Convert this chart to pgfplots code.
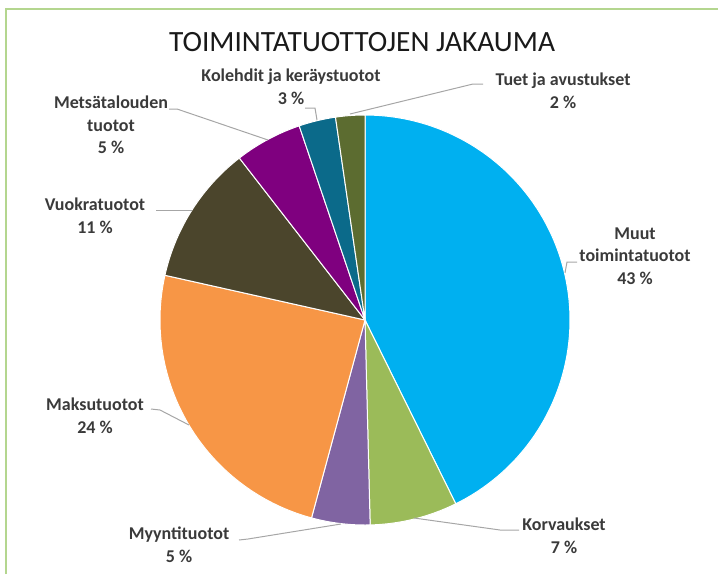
\documentclass[border=0pt]{standalone}
\usepackage{pgfplots}
\pgfplotsset{compat=1.18}
\usepackage{fontspec}
\setmainfont{Carlito}
\definecolor{cMuut}{HTML}{00B0F0}
\definecolor{cKorv}{HTML}{9BBB59}
\definecolor{cMyyn}{HTML}{8064A2}
\definecolor{cMaks}{HTML}{F79646}
\definecolor{cVuok}{HTML}{4B452C}
\definecolor{cMets}{HTML}{7F007F}
\definecolor{cKole}{HTML}{0B6A8A}
\definecolor{cTuet}{HTML}{5C6C30}
\definecolor{cFrame}{HTML}{B4D68F}
\definecolor{cTxt}{HTML}{3A3A3A}
\definecolor{cLead}{HTML}{A6A6A6}
% slice values (percent), clockwise from 12 o'clock
\def\vMuut{42.7}\def\vKorv{6.9}\def\vMyyn{4.6}\def\vMaks{24.3}
\def\vVuok{11.0}\def\vMets{5.3}\def\vKole{2.9}\def\vTuet{2.3}
\pgfmathsetmacro\cA{0}
\pgfmathsetmacro\cB{\cA+\vMuut}
\pgfmathsetmacro\cC{\cB+\vKorv}
\pgfmathsetmacro\cD{\cC+\vMyyn}
\pgfmathsetmacro\cE{\cD+\vMaks}
\pgfmathsetmacro\cF{\cE+\vVuok}
\pgfmathsetmacro\cG{\cF+\vMets}
\pgfmathsetmacro\cH{\cG+\vKole}
\pgfmathsetmacro\cI{\cH+\vTuet}
\newcommand\slice[3]{%
  \addplot[fill=#3, draw=white, line width=0.5pt, domain={90-3.6*#2}:{90-3.6*#1}, samples=90, variable=\t]
    ({365+205*cos(\t)},{320-205*sin(\t)}) -- (365,320) -- cycle;
}
\tikzset{lbl/.style={font=\bfseries\fontsize{9}{11.3}\selectfont, text=cTxt, align=center}}
\begin{document}
\begin{tikzpicture}
\begin{axis}[
  scale only axis, width=359pt, height=287pt,
  xmin=0, xmax=718, ymin=0, ymax=574, y dir=reverse,
  hide axis, clip=false,
]
\slice{\cA}{\cB}{cMuut}
\slice{\cB}{\cC}{cKorv}
\slice{\cC}{\cD}{cMyyn}
\slice{\cD}{\cE}{cMaks}
\slice{\cE}{\cF}{cVuok}
\slice{\cF}{\cG}{cMets}
\slice{\cG}{\cH}{cKole}
\slice{\cH}{\cI}{cTuet}
% frame
\draw[cFrame, line width=0.8pt] (6,574) -- (6,9) -- (718,9);
% title
\node[font=\fontsize{14.7}{16}\selectfont, text=black!90] at (362,42) {TOIMINTATUOTTOJEN JAKAUMA};
% leader lines
\draw[cLead, line width=0.5pt] (483,84) -- (473,84) -- (350,114);
\draw[cLead, line width=0.5pt] (305,108) -- (315,108) -- (317,120);
\draw[cLead, line width=0.5pt] (169,109) -- (177,109) -- (268,140);
\draw[cLead, line width=0.5pt] (156,210) -- (192,210);
\draw[cLead, line width=0.5pt] (151,409) -- (160,410) -- (189,425);
\draw[cLead, line width=0.5pt] (239,540) -- (248,539) -- (341,524);
\draw[cLead, line width=0.5pt] (519,530) -- (500,530) -- (414,518);
\draw[cLead, line width=0.5pt] (577,262) -- (567,262) -- (565,273);
% labels
\node[lbl] at (563,90.5) {Tuet ja avustukset\\2 \%};
\node[lbl] at (291,87) {Kolehdit ja keräystuotot\\3 \%};
\node[lbl] at (111,125) {Metsätalouden\\tuotot\\5 \%};
\node[lbl] at (95,215.5) {Vuokratuotot\\11 \%};
\node[lbl] at (95,416) {Maksutuotot\\24 \%};
\node[lbl] at (179,545) {Myyntituotot\\5 \%};
\node[lbl] at (564,535.5) {Korvaukset\\7 \%};
\node[lbl] at (635,256) {Muut\\toimintatuotot\\43 \%};
\end{axis}
\pgfresetboundingbox
\path (current axis.south west) rectangle (current axis.north east);
\end{tikzpicture}
\end{document}
